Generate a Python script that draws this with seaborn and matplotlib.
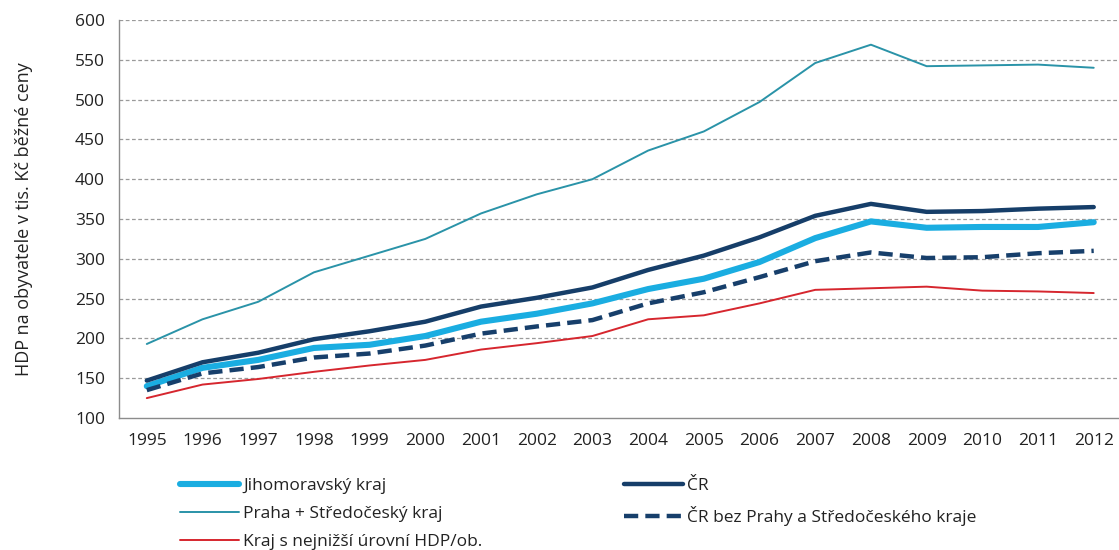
import matplotlib
matplotlib.use("Agg")
import matplotlib.pyplot as plt
import matplotlib.ticker as ticker
import numpy as np
import pandas as pd
import seaborn as sns

years = list(range(1995, 2013))

jihomoravsky = [140, 163, 173, 188, 192, 203, 221, 231, 244, 262, 275, 296, 326, 347, 339, 340, 340, 346]
cr = [147, 170, 182, 199, 209, 221, 240, 251, 264, 286, 304, 327, 354, 369, 359, 360, 363, 365]
praha_stc = [193, 224, 246, 283, 304, 325, 357, 381, 400, 436, 460, 497, 546, 569, 542, 543, 544, 540]
cr_bez_prahy = [135, 156, 164, 176, 181, 191, 206, 215, 223, 244, 258, 277, 297, 308, 301, 302, 307, 310]
kraj_min = [125, 142, 149, 158, 166, 173, 186, 194, 203, 224, 229, 244, 261, 263, 265, 260, 259, 257]

labels = ["Jihomoravský kraj", "ČR", "Praha + Středočeský kraj",
          "ČR bez Prahy a Středočeského kraje", "Kraj s nejnižší úrovní HDP/ob."]

sns.set_style("white")
plt.rcParams['font.family'] = ['Open Sans', 'DejaVu Sans']

fig = plt.figure(figsize=(11.19, 5.5), dpi=100)
ax = fig.add_axes([0.1063, 0.24, 0.896, 0.7236])

grey = "#8c8c8c"
for v in range(150, 601, 50):
    ax.axhline(v, color="#9a9a9a", lw=0.9, ls=(0, (3, 2)), zorder=0)

df = pd.DataFrame({"rok": years, "jmk": jihomoravsky, "cr": cr, "pst": praha_stc,
                   "crb": cr_bez_prahy, "min": kraj_min})

sns.lineplot(data=df, x="rok", y="jmk", ax=ax, color="#1aade1", lw=4.4, zorder=3)
sns.lineplot(data=df, x="rok", y="pst", ax=ax, color="#2a93a8", lw=1.4, zorder=3)
sns.lineplot(data=df, x="rok", y="min", ax=ax, color="#d6262e", lw=1.4, zorder=3)
sns.lineplot(data=df, x="rok", y="crb", ax=ax, color="#173f6b", lw=3.2, zorder=3)
ax.lines[-1].set_dashes((3.2, 1.6))
sns.lineplot(data=df, x="rok", y="cr", ax=ax, color="#163e69", lw=3.2, zorder=4)

l_jmk, l_pst, l_min, l_crb, l_cr = ax.lines[-5:]

ax.set_xlim(1994.5, 2012.5)
ax.set_ylim(100, 600)
ax.yaxis.set_major_locator(ticker.MultipleLocator(50))
ax.set_xticks(years)
ax.set_xticklabels([str(y) for y in years])
ax.xaxis.set_minor_locator(ticker.FixedLocator(np.arange(1994.5, 2013, 1)))
ax.tick_params(axis="x", which="major", length=0, pad=11, labelsize=12.5, labelcolor="#222222")
ax.tick_params(axis="x", which="minor", length=6, width=1, color=grey, direction="out")
ax.tick_params(axis="y", length=6, width=1, color=grey, direction="out", pad=4,
               labelsize=12.5, labelcolor="#222222")
ax.set_xlabel("")
ax.set_ylabel("HDP na obyvatele v tis. Kč běžné ceny", fontsize=13, color="#222222", labelpad=30)

for s in ["top", "right"]:
    ax.spines[s].set_visible(False)
for s in ["left", "bottom"]:
    ax.spines[s].set_color(grey)
    ax.spines[s].set_linewidth(1)

leg_font = {"size": 12.5}
leg_kw = dict(loc="upper left", frameon=False, prop=leg_font, handlelength=3.4,
              handletextpad=0.25, borderpad=0, borderaxespad=0, labelspacing=0.68)
leg1 = fig.legend([l_jmk, l_pst, l_min], [labels[0], labels[2], labels[4]],
                  bbox_to_anchor=(180 / 1119, 1 - 478 / 550), **leg_kw)
leg2 = fig.legend([l_cr, l_crb], [labels[1], labels[3]],
                  bbox_to_anchor=(624 / 1119, 1 - 478 / 550), **leg_kw)
for t in leg1.get_texts() + leg2.get_texts():
    t.set_color("#222222")

fig.savefig("out.png", dpi=100)
